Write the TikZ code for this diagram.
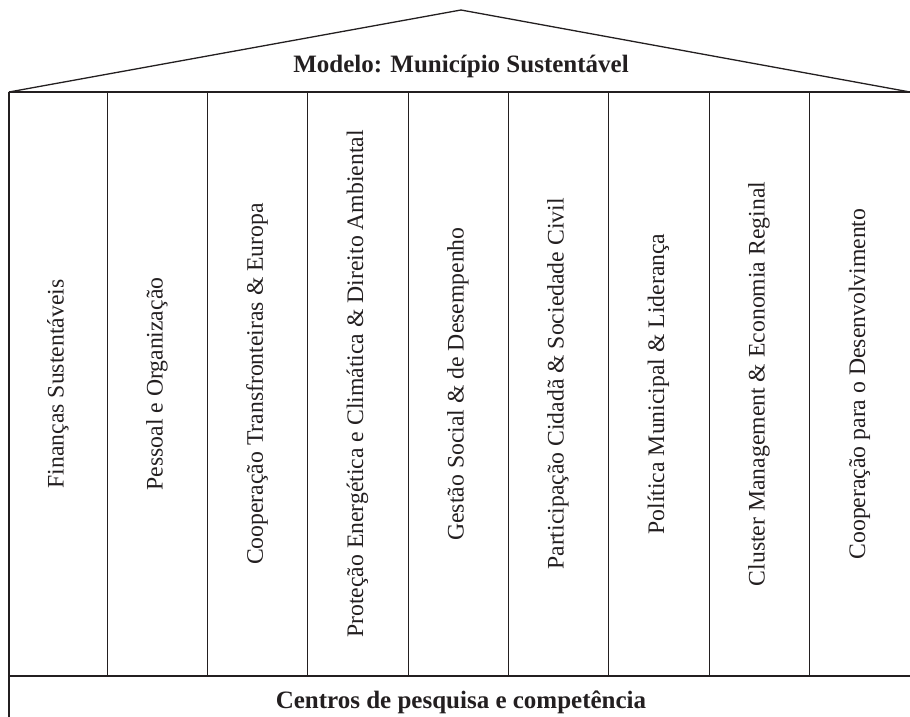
\documentclass[tikz,border=0pt]{standalone}
\usepackage{fontspec}
\setmainfont{Liberation Serif}
\definecolor{ink}{HTML}{231F20}
\tikzset{
  frame/.style={draw=ink, line width=1.3pt},
  colline/.style={draw=ink, line width=0.9pt},
  pillar/.style={rotate=90, anchor=center, text=ink, font=\fontsize{23.7}{26}\selectfont, inner sep=0pt},
  headline/.style={anchor=base, text=ink, font=\fontsize{25}{28}\selectfont\bfseries, inner sep=0pt}
}
\begin{document}
\begin{tikzpicture}[x=1pt,y=-1pt]
\useasboundingbox (0,0) rectangle (910,717);
% roof and frame
\coordinate (eL) at (9,92);
\coordinate (apex) at (461,10);
\coordinate (eR) at (910,92);
\coordinate (eRx) at (914,92);
\coordinate (bL) at (9,676);
\coordinate (bR) at (914,676);
\coordinate (footL) at (9,722);
\draw[frame, line join=miter] (eL) -- (apex) -- (eR);
\draw[frame] (eL) -- (eRx);
\draw[frame] (eL) -- (footL);
\draw[frame] (bL) -- (bR);
% column separators
\foreach \x in {107,207,307,408,508,608,709,809} {
  \draw[colline] (\x,92) -- (\x,676);
}
% title
\node[headline] (title) at (461,73) {Modelo: Município Sustentável};
% pillars
\node[pillar] (p1) at (58,384) {Finanças Sustentáveis};
\node[pillar] (p2) at (157,384) {Pessoal e Organização};
\node[pillar] (p3) at (257,384) {Cooperação Transfronteiras \& Europa};
\node[pillar] (p4) at (357.5,384) {Proteção Energética e Climática \& Direito Ambiental};
\node[pillar] (p5) at (458,384) {Gestão Social \& de Desempenho};
\node[pillar] (p6) at (558,384) {Participação Cidadã \& Sociedade Civil};
\node[pillar] (p7) at (658.5,384) {Política Municipal \& Liderança};
\node[pillar] (p8) at (759,384) {Cluster Management \& Economia Reginal};
\node[pillar] (p9) at (859.5,384) {Cooperação para o Desenvolvimento};
% foundation
\node[headline] (base) at (461,708) {Centros de pesquisa e competência};
\end{tikzpicture}
\end{document}
